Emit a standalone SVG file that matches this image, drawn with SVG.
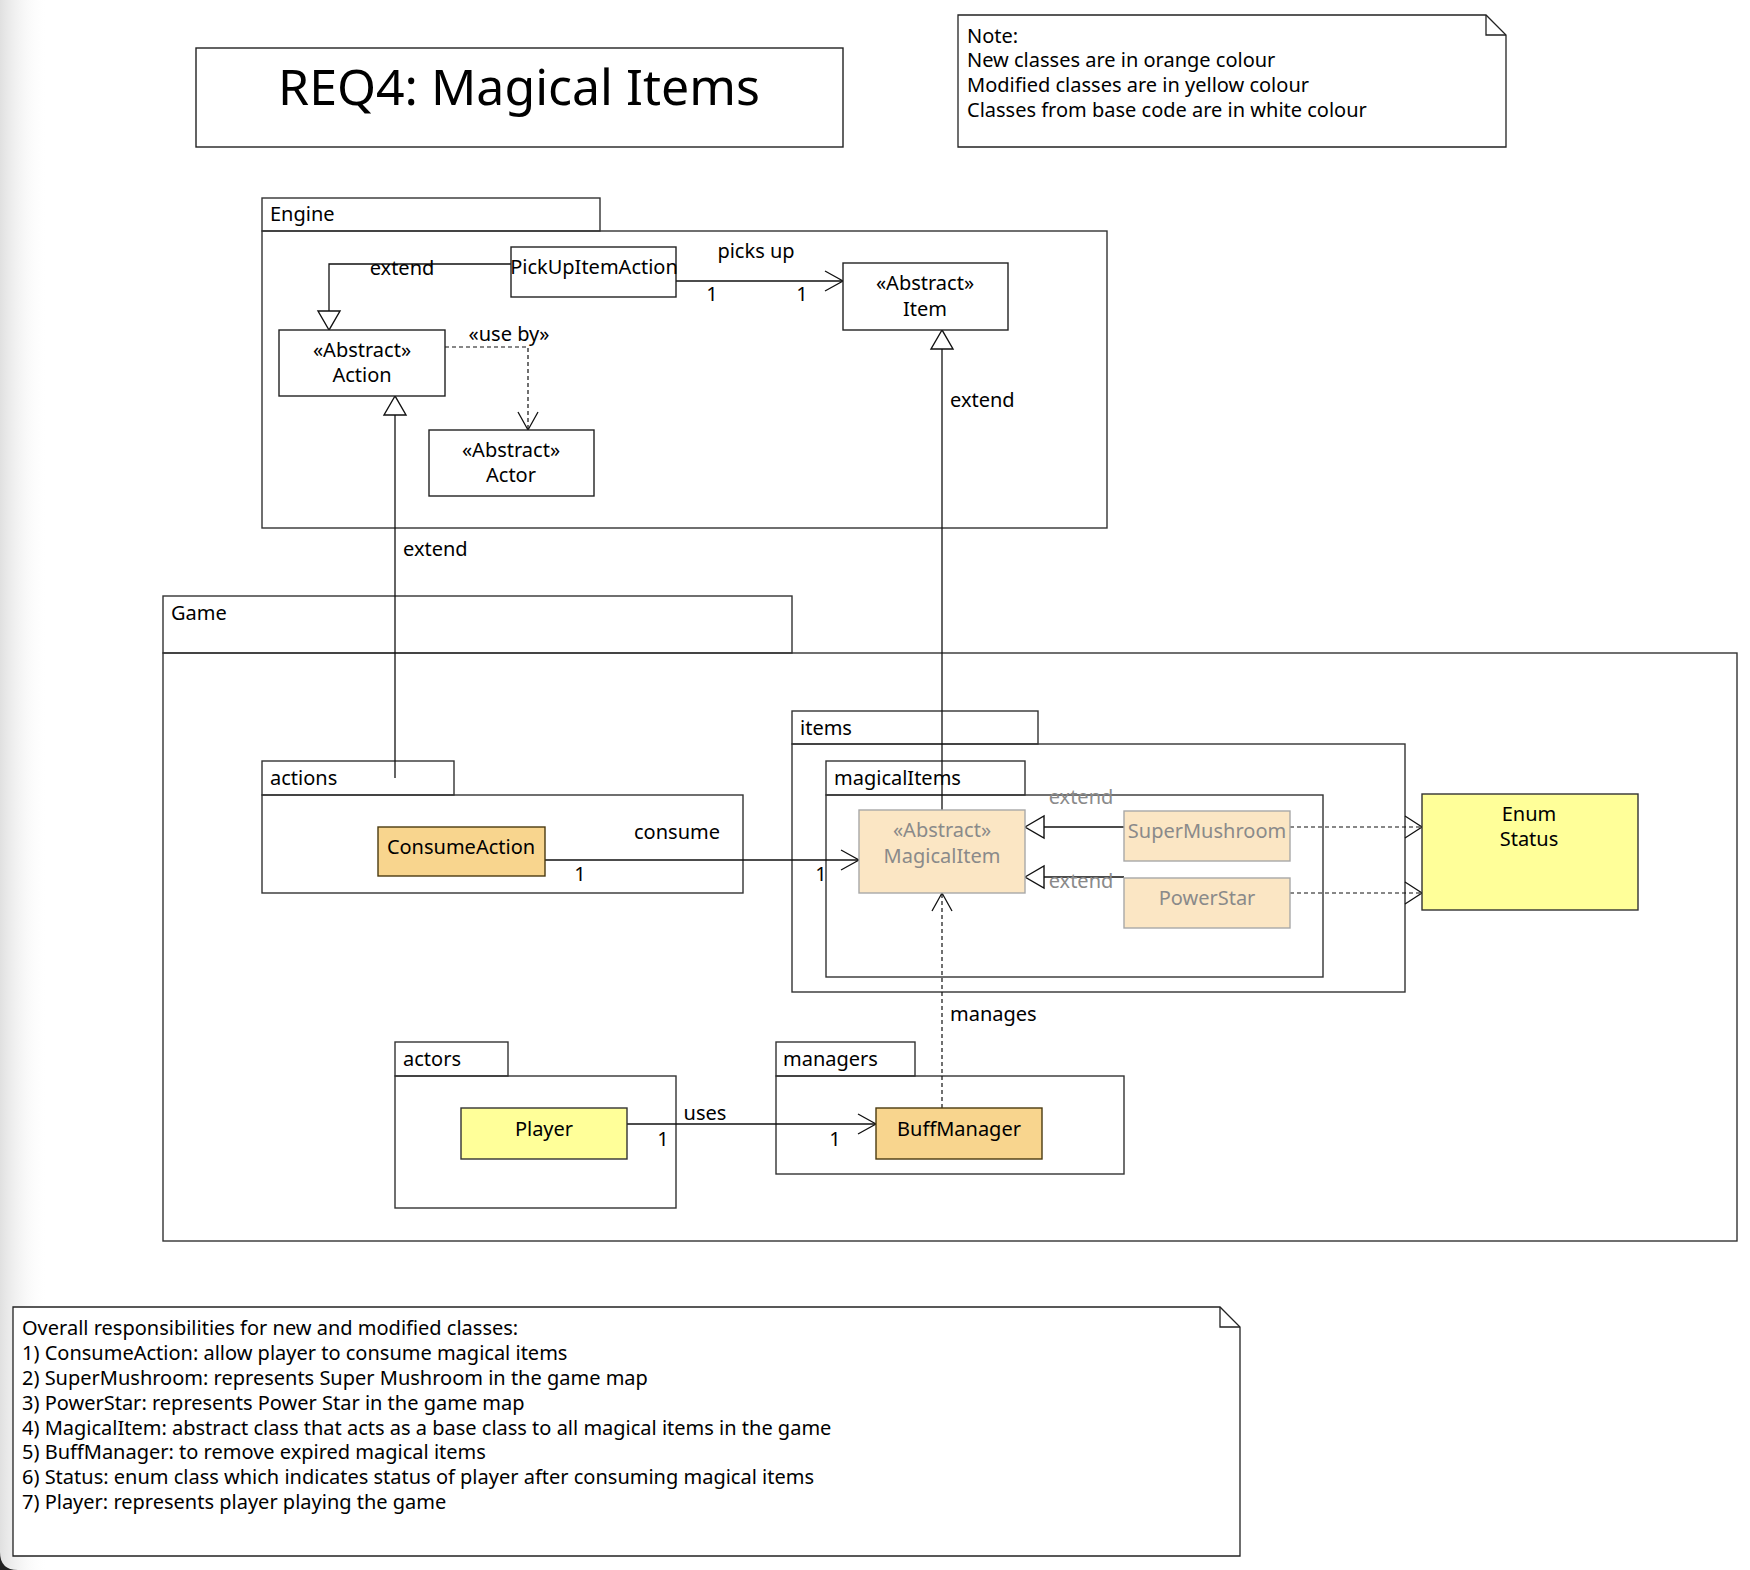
<svg xmlns="http://www.w3.org/2000/svg" width="1750" height="1570" viewBox="0 0 1750 1570">
<style>
text{font-family:"Noto Sans","Open Sans","DejaVu Sans",sans-serif;fill:#000;}
.t{font-size:20px;}
.c{font-size:20px;text-anchor:middle;}
.g{fill:#8a8a8a;}
.pk{fill:none;stroke:#333;stroke-width:1.4;}
.cls{fill:#fff;stroke:#222;stroke-width:1.4;}
.new{fill:#F8D58E;stroke:#4a3a10;stroke-width:1.4;}
.fade{fill:#FBE6C4;stroke:#a8a8a8;stroke-width:1.4;}
.yel{fill:#FFFF99;stroke:#333;stroke-width:1.4;}
.ln{fill:none;stroke:#111;stroke-width:1.3;}
.dash{fill:none;stroke:#111;stroke-width:1.2;stroke-dasharray:4 3;}
.tri{fill:#fff;stroke:#111;stroke-width:1.4;}
.note{fill:#fff;stroke:#222;stroke-width:1.3;}
</style>
<defs>
<linearGradient id="edge" x1="0" y1="0" x2="1" y2="0">
<stop offset="0" stop-color="#e0e0e0"/>
<stop offset="1" stop-color="#ffffff" stop-opacity="0"/>
</linearGradient>
</defs>
<rect width="1750" height="1570" fill="#fff"/>
<rect x="0" y="0" width="48" height="1570" fill="url(#edge)"/>
<path d="M0 1552 Q0 1570 18 1570 L0 1570 Z" fill="#222"/>

<g id="title">
<rect x="196" y="48" width="647" height="99" fill="#fff" stroke="#222" stroke-width="1.4"/>
<text x="519" y="105" font-size="50" text-anchor="middle">REQ4: Magical Items</text>
</g>

<g id="note-legend">
<path class="note" d="M958 15 H1486 L1506 35 V147 H958 Z"/>
<path d="M1486 15 V35 H1506" fill="none" stroke="#222" stroke-width="1.3"/>
<text class="t" x="967" y="43">Note:</text>
<text class="t" x="967" y="67">New classes are in orange colour</text>
<text class="t" x="967" y="92">Modified classes are in yellow colour</text>
<text class="t" x="967" y="117">Classes from base code are in white colour</text>
</g>

<g id="pkg-engine">
<rect class="pk" x="262" y="198" width="338" height="33"/>
<rect class="pk" x="262" y="231" width="845" height="297"/>
<text class="t" x="270" y="221">Engine</text>
</g>
<g id="pkg-game">
<rect class="pk" x="163" y="596" width="629" height="57"/>
<rect class="pk" x="163" y="653" width="1574" height="588"/>
<text class="t" x="171" y="620">Game</text>
</g>
<g id="pkg-items">
<rect class="pk" x="792" y="711" width="246" height="33"/>
<rect class="pk" x="792" y="744" width="613" height="248"/>
<text class="t" x="800" y="735">items</text>
</g>
<g id="pkg-magicalItems">
<rect class="pk" x="826" y="761" width="199" height="34"/>
<rect class="pk" x="826" y="795" width="497" height="182"/>
<text class="t" x="834" y="785">magicalItems</text>
</g>
<g id="pkg-actions">
<rect class="pk" x="262" y="761" width="192" height="34"/>
<rect class="pk" x="262" y="795" width="481" height="98"/>
<text class="t" x="270" y="785">actions</text>
</g>
<g id="pkg-actors">
<rect class="pk" x="395" y="1042" width="113" height="34"/>
<rect class="pk" x="395" y="1076" width="281" height="132"/>
<text class="t" x="403" y="1066">actors</text>
</g>
<g id="pkg-managers">
<rect class="pk" x="776" y="1042" width="139" height="34"/>
<rect class="pk" x="776" y="1076" width="348" height="98"/>
<text class="t" x="783" y="1066">managers</text>
</g>

<g id="connectors">
<path class="ln" d="M511 264 H329 V311"/>
<polygon class="tri" points="329,330 318,311 340,311"/>
<text class="c" x="402" y="275">extend</text>
<path class="ln" d="M676 281 H843"/>
<path class="ln" d="M825 271 L843 281 L825 291"/>
<text class="c" x="756" y="258">picks up</text>
<text class="c" x="712" y="301">1</text>
<text class="c" x="802" y="301">1</text>
<path class="dash" d="M445 347 H528 V430"/>
<path class="ln" d="M518 412 L528 430 L538 412"/>
<text class="c" x="509" y="341">«use by»</text>
<path class="ln" d="M942 810 V349"/>
<polygon class="tri" points="942,330 931,349 953,349"/>
<text class="t" x="950" y="407">extend</text>
<path class="ln" d="M395 778 V415"/>
<polygon class="tri" points="395,396 384,415 406,415"/>
<text class="t" x="403" y="556">extend</text>
<path class="ln" d="M545 860 H859"/>
<path class="ln" d="M841 850 L859 860 L841 870"/>
<text class="c" x="677" y="839">consume</text>
<text class="c" x="580" y="881">1</text>
<text class="c" x="821" y="881">1</text>
<path class="ln" d="M1124 827 H1044"/>
<polygon class="tri" points="1025,827 1044,816 1044,838"/>
<text class="c g" x="1081" y="804">extend</text>
<path class="ln" d="M1124 877 H1044"/>
<polygon class="tri" points="1025,877 1044,866 1044,888"/>
<text class="c g" x="1081" y="888">extend</text>
<path class="dash" d="M1290 827 H1422"/>
<path class="ln" d="M1405 816 L1422 827 L1405 838"/>
<path class="dash" d="M1290 893 H1422"/>
<path class="ln" d="M1405 882 L1422 893 L1405 904"/>
<path class="ln" d="M627 1124 H876"/>
<path class="ln" d="M858 1114 L876 1124 L858 1134"/>
<text class="c" x="705" y="1120">uses</text>
<text class="c" x="663" y="1146">1</text>
<text class="c" x="835" y="1146">1</text>
<path class="dash" d="M942 1108 V893"/>
<path class="ln" d="M932 911 L942 893 L952 911"/>
<text class="t" x="950" y="1021">manages</text>
</g>

<g id="PickUpItemAction">
<rect class="cls" x="511" y="247" width="165" height="50"/>
<text class="c" x="594" y="274">PickUpItemAction</text>
</g>
<g id="Item">
<rect class="cls" x="843" y="263" width="165" height="67"/>
<text class="c" x="925" y="290">«Abstract»</text>
<text class="c" x="925" y="316">Item</text>
</g>
<g id="Action">
<rect class="cls" x="279" y="330" width="166" height="66"/>
<text class="c" x="362" y="357">«Abstract»</text>
<text class="c" x="362" y="382">Action</text>
</g>
<g id="Actor">
<rect class="cls" x="429" y="430" width="165" height="66"/>
<text class="c" x="511" y="457">«Abstract»</text>
<text class="c" x="511" y="482">Actor</text>
</g>
<g id="MagicalItem">
<rect class="fade" x="859" y="810" width="166" height="83"/>
<text class="c g" x="942" y="837">«Abstract»</text>
<text class="c g" x="942" y="863">MagicalItem</text>
</g>
<g id="SuperMushroom">
<rect class="fade" x="1124" y="811" width="166" height="50"/>
<text class="c g" x="1207" y="838">SuperMushroom</text>
</g>
<g id="PowerStar">
<rect class="fade" x="1124" y="878" width="166" height="50"/>
<text class="c g" x="1207" y="905">PowerStar</text>
</g>
<g id="Status">
<rect class="yel" x="1422" y="794" width="216" height="116"/>
<text class="c" x="1529" y="821">Enum</text>
<text class="c" x="1529" y="846">Status</text>
</g>
<g id="ConsumeAction">
<rect class="new" x="378" y="827" width="167" height="49"/>
<text class="c" x="461" y="854">ConsumeAction</text>
</g>
<g id="Player">
<rect class="yel" x="461" y="1108" width="166" height="51"/>
<text class="c" x="544" y="1136">Player</text>
</g>
<g id="BuffManager">
<rect class="new" x="876" y="1108" width="166" height="51"/>
<text class="c" x="959" y="1136">BuffManager</text>
</g>

<g id="note-responsibilities">
<path class="note" d="M13 1307 H1220 L1240 1327 V1556 H13 Z"/>
<path d="M1220 1307 V1327 H1240" fill="none" stroke="#222" stroke-width="1.3"/>
<text class="t" x="22" y="1335">Overall responsibilities for new and modified classes:</text>
<text class="t" x="22" y="1360">1) ConsumeAction: allow player to consume magical items</text>
<text class="t" x="22" y="1385">2) SuperMushroom: represents Super Mushroom in the game map</text>
<text class="t" x="22" y="1410">3) PowerStar: represents Power Star in the game map</text>
<text class="t" x="22" y="1435">4) MagicalItem: abstract class that acts as a base class to all magical items in the game</text>
<text class="t" x="22" y="1459">5) BuffManager: to remove expired magical items</text>
<text class="t" x="22" y="1484">6) Status: enum class which indicates status of player after consuming magical items</text>
<text class="t" x="22" y="1509">7) Player: represents player playing the game</text>
</g>
</svg>
